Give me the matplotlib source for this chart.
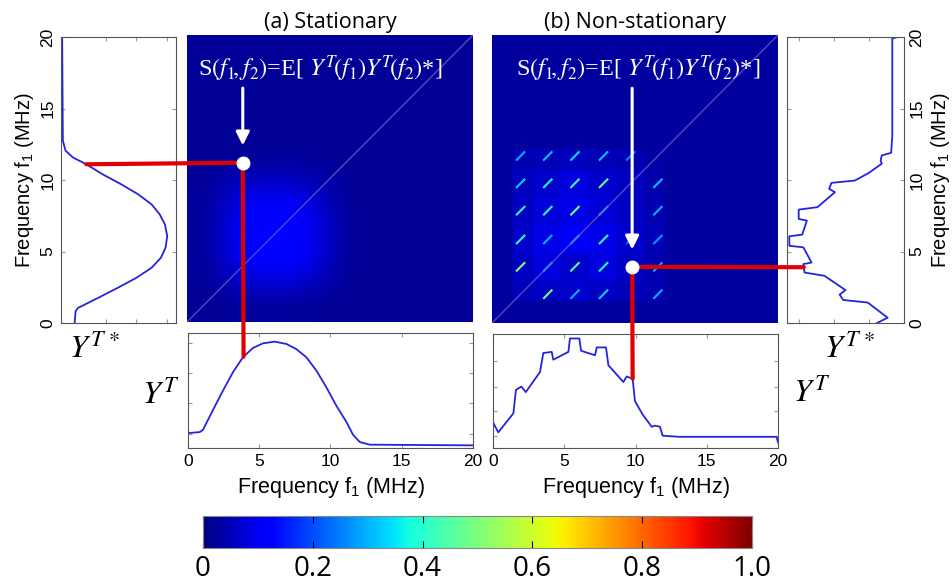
import numpy as np
import matplotlib
matplotlib.use("Agg")
import matplotlib.pyplot as plt
from matplotlib.collections import LineCollection
from matplotlib.patches import ConnectionPatch
from matplotlib.lines import Line2D
from matplotlib.cm import ScalarMappable

# stationary spectrum |Y^T(f)|
stat_f = [0, 0.82, 1.05, 1.75, 2.46, 3.16, 3.86, 4.56, 5.26, 6.08, 6.9, 7.6,
          8.3, 9.0, 9.7, 10.4, 11.1, 11.58, 12.05, 12.75, 20]
stat_y = [0.13, 0.138, 0.158, 0.33, 0.50, 0.66, 0.79, 0.87, 0.91, 0.925, 0.905, 0.86,
          0.79, 0.675, 0.53, 0.37, 0.23, 0.115, 0.052, 0.029, 0.023]

# non-stationary spectrum
nonstat_f = [0, 0.37, 1.43, 1.61, 1.99, 2.3, 3.3, 3.53, 4.12, 4.23, 5.29, 5.4, 6.06,
             6.18, 7.16, 7.28, 7.93, 8.1, 9.15, 9.38, 9.8, 9.96, 10.5, 11.14, 11.37,
             11.72, 11.9, 13.1, 19.9, 20]
nonstat_y = [0.23, 0.14, 0.31, 0.52, 0.55, 0.50, 0.68, 0.85, 0.86, 0.79, 0.86, 0.98, 0.98,
             0.87, 0.83, 0.90, 0.90, 0.74, 0.59, 0.64, 0.62, 0.42, 0.30, 0.19, 0.20,
             0.19, 0.11, 0.10, 0.10, 0.05]

# blocky part of the non-stationary S(f1,f2) (rows: f2 low -> high)
bg_level = 0.03
block_edges = [0, 1.5, 2.95, 4.85, 6.8, 8.75, 10.65, 12.1, 20]
block_vals = [[0.05, 0.06, 0.07, 0.06, 0.05, 0.045],
              [0.06, 0.085, 0.07, 0.085, 0.06, 0.045],
              [0.07, 0.09, 0.105, 0.09, 0.07, 0.05],
              [0.06, 0.08, 0.09, 0.075, 0.06, 0.045],
              [0.055, 0.07, 0.085, 0.07, 0.055, 0.04],
              [0.045, 0.05, 0.055, 0.05, 0.045, 0.035]]

# short diagonal streaks (0 = none)
streak_pos = [2.0, 3.9, 5.8, 7.8, 9.7, 11.6]
streak_vals = [[0.0, 0.48, 0.30, 0.33, 0.0, 0.30],
               [0.50, 0.30, 0.45, 0.38, 0.0, 0.30],
               [0.40, 0.30, 0.30, 0.40, 0.22, 0.28],
               [0.40, 0.40, 0.47, 0.30, 0.0, 0.30],
               [0.33, 0.38, 0.42, 0.47, 0.0, 0.32],
               [0.30, 0.32, 0.34, 0.32, 0.25, 0.0]]

probe_stat = (3.9, 11.1)
probe_nonstat = (9.8, 3.9)

freq_ticks = [0, 5, 10, 15, 20]
cbar_ticks = [0, 0.2, 0.4, 0.6, 0.8, 1.0]
cbar_labels = ['0', '0.2', '0.4', '0.6', '0.8', '1.0']

plt.rcParams['font.family'] = ['Liberation Sans', 'DejaVu Sans']
plt.rcParams['mathtext.fontset'] = 'custom'
plt.rcParams['mathtext.rm'] = 'Liberation Sans'
plt.rcParams['mathtext.it'] = 'Liberation Sans:italic'

W, H = 953, 581
fig = plt.figure(figsize=(W / 100, H / 100), dpi=100)


def box(x0, y0, x1, y1):
    return [x0 / W, 1 - y1 / H, (x1 - x0) / W, (y1 - y0) / H]


line_c = '#2424dc'
spine_c = '#555555'
red = '#e00000'
norm = plt.Normalize(0, 1)


def style_line_axes(ax):
    for s in ax.spines.values():
        s.set_color(spine_c)
        s.set_linewidth(0.8)
    ax.tick_params(direction='in', length=3, color='#999999', top=True, right=True,
                   labelsize=12.5, pad=4)


ax_sl = fig.add_axes(box(61, 37, 176, 323))
ax_hl = fig.add_axes(box(187, 35, 473, 322))
ax_hr = fig.add_axes(box(492, 35, 778, 323))
ax_sr = fig.add_axes(box(787, 37, 904, 323))
ax_bl = fig.add_axes(box(188, 333, 473, 448))
ax_br = fig.add_axes(box(493, 334, 778, 448))
cax = fig.add_axes(box(203, 516, 752, 548))

# stationary S(f1,f2)
sy = np.array(stat_y)
S_stat = 0.02 + 0.14 * np.outer(sy, sy) ** 1.5
F1, F2 = np.meshgrid(stat_f, stat_f)
ax_hl.pcolormesh(F1, F2, S_stat, cmap='jet', norm=norm, shading='gouraud')

# non-stationary S(f1,f2)
S_ns = np.pad(np.array(block_vals), 1, constant_values=bg_level)
ax_hr.pcolormesh(block_edges, block_edges, S_ns, cmap='jet', norm=norm)
sv = np.array(streak_vals)
rows, cols = np.nonzero(sv)
h = 0.32
segs = [[(streak_pos[c] - h, streak_pos[r] - h), (streak_pos[c] + h, streak_pos[r] + h)]
        for r, c in zip(rows, cols)]
lc = LineCollection(segs, cmap='jet', norm=norm, linewidths=1.5)
lc.set_array(sv[rows, cols])
ax_hr.add_collection(lc)

eq = r"S$(f_1\!,f_2)$=E[ $Y^T\!(f_1)Y^T\!(f_2)$*]"
for ax, probe, title, eq_x in [(ax_hl, probe_stat, '(a) Stationary', 9.3),
                               (ax_hr, probe_nonstat, '(b) Non-stationary', 10.2)]:
    ax.set_xlim(0, 20)
    ax.set_ylim(0, 20)
    ax.set_xticks([])
    ax.set_yticks([])
    for s in ax.spines.values():
        s.set_visible(False)
    ax.axline((0, 0), slope=1, color='#7060c8', lw=1.1, alpha=0.7)
    ax.text(eq_x, 16.6, eq, color='white', ha='center', va='bottom', fontsize=17.5,
            family='Liberation Serif', math_fontfamily='stix')
    ax.annotate('', xy=(probe[0], probe[1] + 1.2), xytext=(probe[0], 16.3),
                arrowprops=dict(arrowstyle='-|>', color='white', lw=2.2,
                                mutation_scale=20, shrinkA=0, shrinkB=0))
    ax.set_title(title, family='Open Sans', fontsize=15.5, pad=5)

# spectra along the bottom
ax_bl.plot(stat_f, stat_y, color=line_c, lw=1.3)
ax_bl.set_ylim(0, 1)
ax_bl.set_yticks([0.12, 0.39, 0.65, 0.91])
ax_br.plot(nonstat_f, nonstat_y, color=line_c, lw=1.3)
ax_br.set_ylim(0, 1.02)
ax_br.set_yticks([0.11, 0.33, 0.55, 0.78])
for ax in (ax_bl, ax_br):
    ax.set_xlim(0, 20)
    ax.set_xticks(freq_ticks)
    ax.set_yticklabels([])
    style_line_axes(ax)
    ax.set_xlabel('Frequency f$_1$ (MHz)', fontsize=15.5, labelpad=5)

# spectra along the sides (frequency vertical)
ax_sl.plot(stat_y, stat_f, color=line_c, lw=1.3)
ax_sl.set_xlim(0.013, 1.0)
ax_sl.set_xticks([0.4, 0.66, 0.92])
ax_sr.plot(nonstat_y, nonstat_f, color=line_c, lw=1.3)
ax_sr.set_xlim(1.0, 0)
ax_sr.set_xticks([0.3, 0.6, 0.9])
ax_sr.yaxis.tick_right()
ax_sr.yaxis.set_label_position('right')
for ax in (ax_sl, ax_sr):
    ax.set_ylim(0, 20)
    ax.set_yticks(freq_ticks)
    ax.set_xticklabels([])
    style_line_axes(ax)
    ax.tick_params(axis='y', labelrotation=90)
    for lab in ax.get_yticklabels():
        lab.set_va('center')
    ax.set_ylabel('Frequency f$_1$ (MHz)', fontsize=14.5, labelpad=3)
ax_sr.tick_params(axis='y', left=True, right=True)

# red guide lines and white probe dots
for ax_h, ax_s, ax_b, probe, f, y in [
        (ax_hl, ax_sl, ax_bl, probe_stat, stat_f, stat_y),
        (ax_hr, ax_sr, ax_br, probe_nonstat, nonstat_f, nonstat_y)]:
    side_pt = (np.interp(probe[1], f, y), probe[1])
    bottom_pt = (probe[0], np.interp(probe[0], f, y))
    for xy, ax_o in [(side_pt, ax_s), (bottom_pt, ax_b)]:
        cp = ConnectionPatch(xyA=probe, coordsA=ax_h.transData, xyB=xy,
                             coordsB=ax_o.transData, color=red, lw=3, zorder=2)
        fig.add_artist(cp)
    fig.add_artist(Line2D([probe[0]], [probe[1]], marker='o', ms=9, color='white',
                          transform=ax_h.transData, zorder=3))

# Y^T labels
yt_kw = dict(ha='center', va='center', fontsize=23, math_fontfamily='stix')
fig.text(95 / W, 1 - 350 / H, r'$Y^{T\,*}$', **yt_kw)
fig.text(161 / W, 1 - 395 / H, r'$Y^{T}$', **yt_kw)
fig.text(850 / W, 1 - 350 / H, r'$Y^{T\,*}$', **yt_kw)
fig.text(812 / W, 1 - 393 / H, r'$Y^{T}$', **yt_kw)

# colour bar
cb = fig.colorbar(ScalarMappable(norm=norm, cmap='jet'), cax=cax,
                  orientation='horizontal', ticks=cbar_ticks)
cb.set_ticklabels(cbar_labels)
cb.outline.set_edgecolor('#888888')
cax.tick_params(direction='in', length=5, color='black', top=True, labelsize=20, pad=5)
for lab in cax.get_xticklabels():
    lab.set_family('Open Sans')

fig.savefig('out.png', dpi=100)
